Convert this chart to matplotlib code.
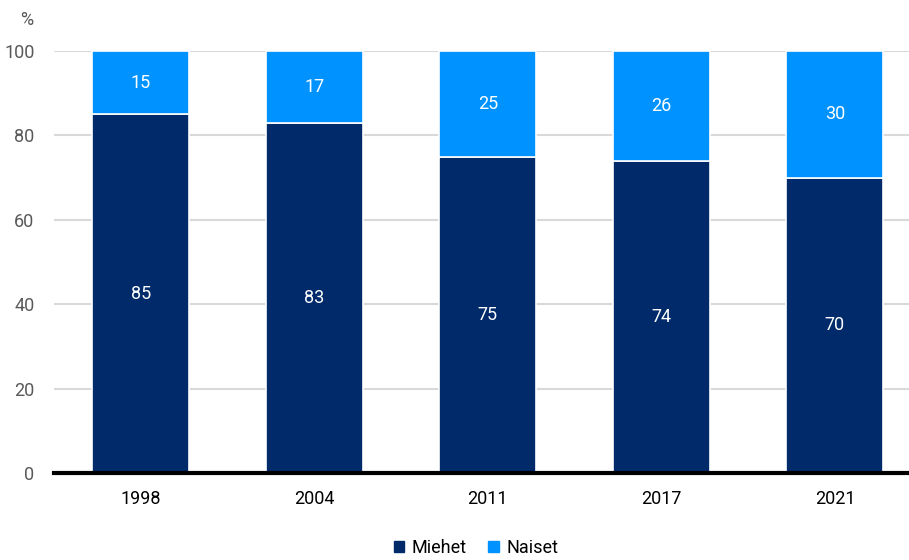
import numpy as np
import matplotlib.pyplot as plt
from matplotlib.patches import Patch

plt.rcParams['font.family'] = ['Roboto', 'DejaVu Sans']

years = ['1998', '2004', '2011', '2017', '2021']
miehet = [85, 83, 75, 74, 70]
naiset = [15, 17, 25, 26, 30]

c_men = '#002a6a'
c_women = '#0093ff'
fs = 13

fig = plt.figure(figsize=(9.09, 5.6), dpi=100)
ax = fig.add_axes([54 / 909, 1 - 473 / 560, 1 - 54 / 909, (473 - 51) / 560])

x = np.arange(len(years))
w = 0.56
ax.bar(x, miehet, w, color=c_men, edgecolor='white', linewidth=1.2, zorder=3)
ax.bar(x, naiset, w, bottom=miehet, color=c_women, edgecolor='white', linewidth=1.2, zorder=3)

# value labels in the middle of each segment
for i in range(len(years)):
    ax.text(x[i], miehet[i] / 2, str(miehet[i]), ha='center', va='center',
            color='white', fontsize=fs, zorder=4)
    ax.text(x[i], miehet[i] + naiset[i] / 2, str(naiset[i]), ha='center', va='center',
            color='white', fontsize=fs, zorder=4)

ax.set_xlim(-0.5, 4.427)
ax.set_ylim(0, 100)
ax.set_yticks([0, 20, 40, 60, 80, 100])
ax.set_xticks(x)
ax.set_xticklabels(years)
ax.grid(axis='y', color='#d9d9d9', linewidth=1.5, zorder=0)
ax.tick_params(axis='y', length=0, pad=14, labelsize=fs, labelcolor='#595959')
ax.tick_params(axis='x', length=0, pad=12, labelsize=fs, labelcolor='black')
for s in ['top', 'right', 'left']:
    ax.spines[s].set_visible(False)
ax.spines['bottom'].set_linewidth(3)
ax.spines['bottom'].set_zorder(5)

fig.text(27 / 909, 1 - 20 / 560, '%', ha='center', va='center', fontsize=fs, color='#595959')

handles = [Patch(color=c_men, label='Miehet'), Patch(color=c_women, label='Naiset')]
fig.legend(handles=handles, loc='center', bbox_to_anchor=(476 / 909, 1 - 548 / 560),
           ncol=2, frameon=False, fontsize=fs, handlelength=0.6, handleheight=0.6,
           handletextpad=0.4, columnspacing=1.2)

fig.savefig('out.png', dpi=100)
